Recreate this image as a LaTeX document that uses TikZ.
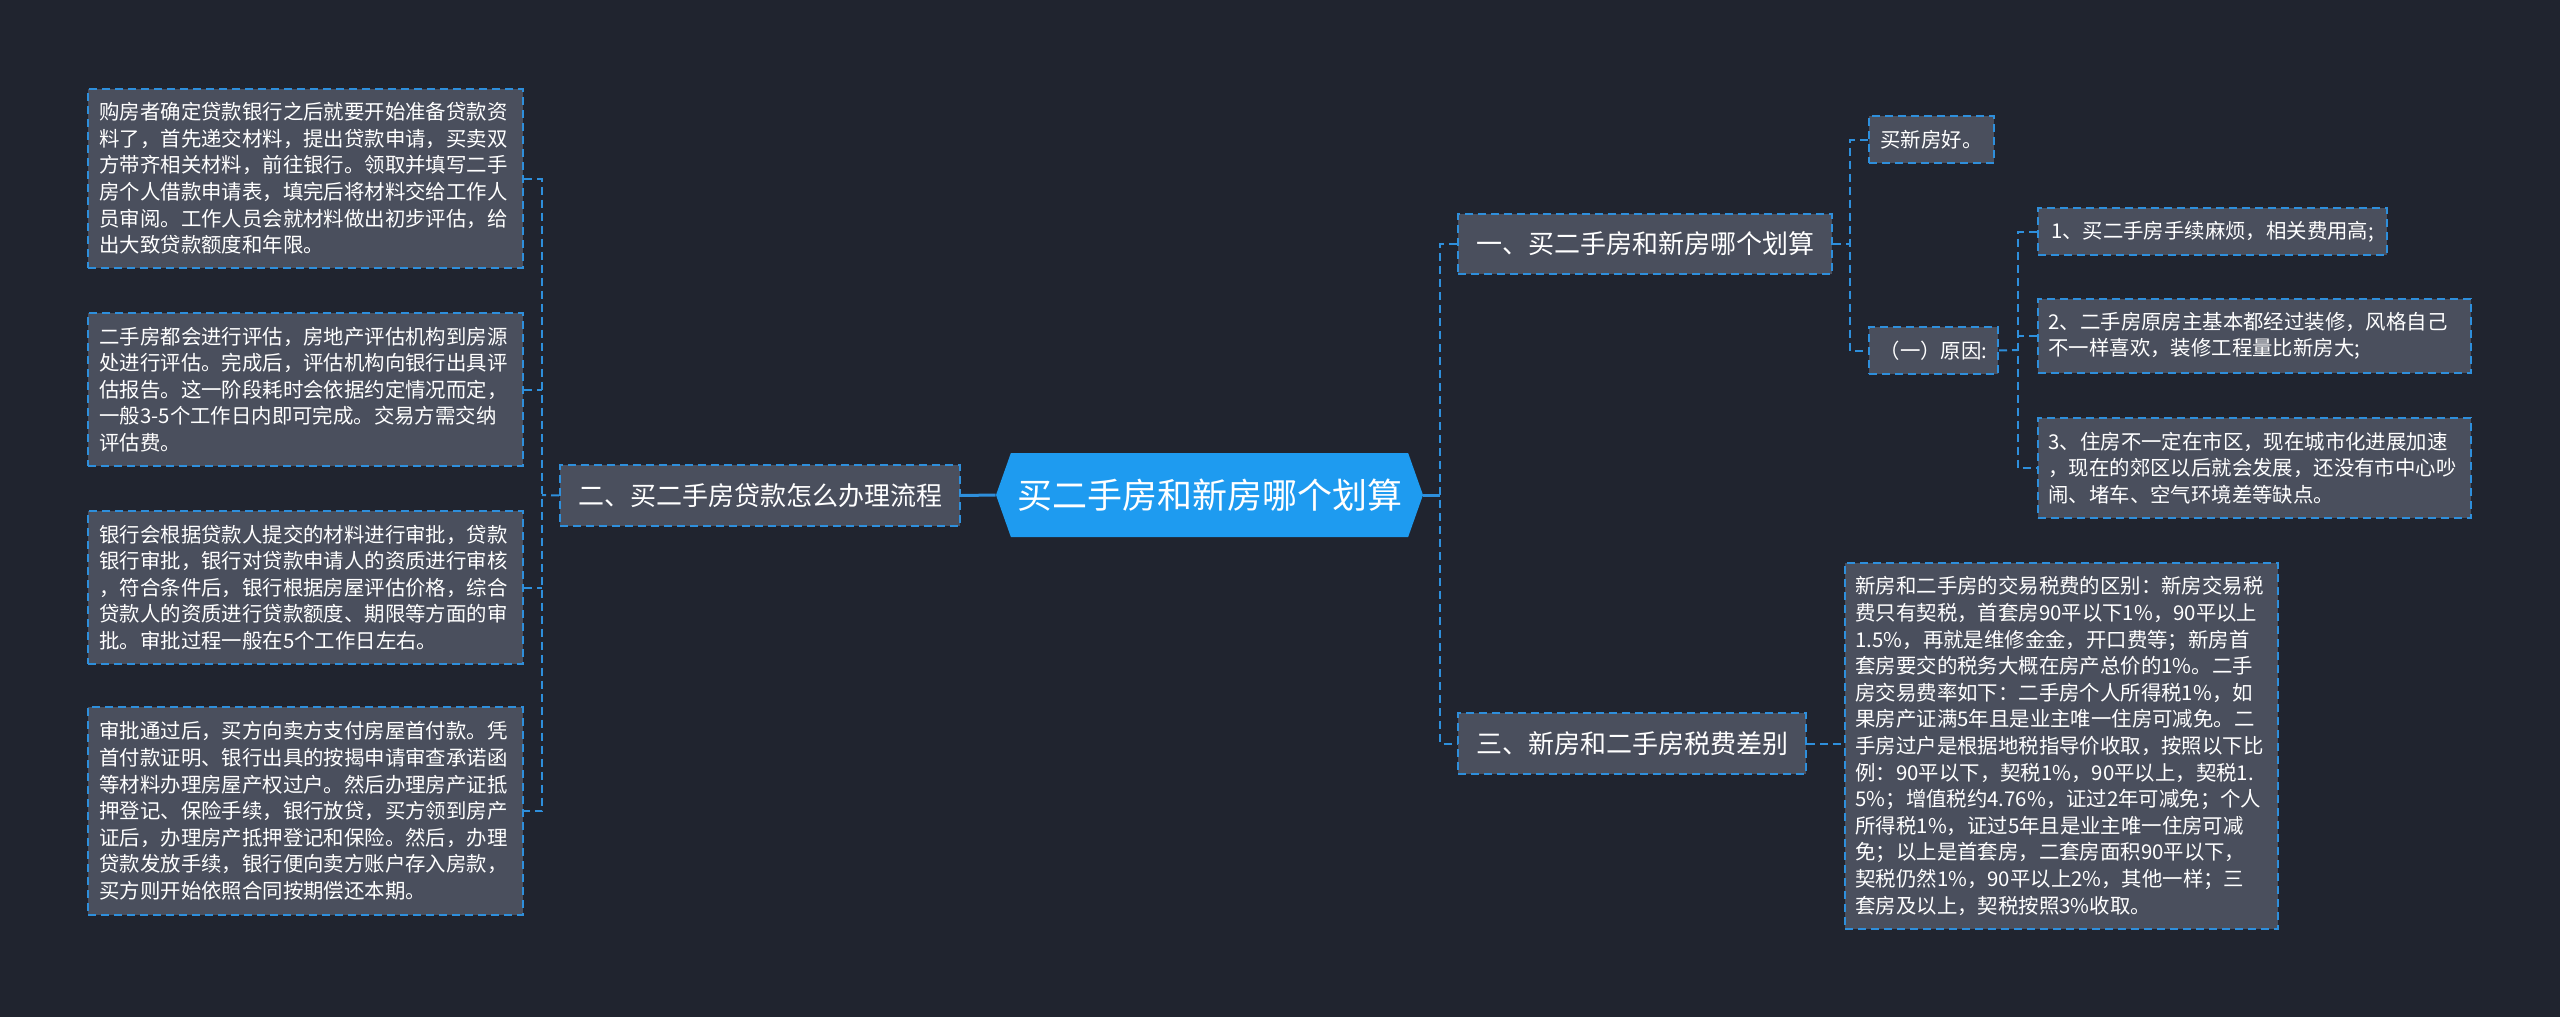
\documentclass[tikz,border=0pt]{standalone}
\usepackage{fontspec}
\setmainfont{Noto Sans CJK SC}
\usetikzlibrary{shapes.symbols}
\definecolor{bg}{HTML}{20242F}
\definecolor{boxfill}{HTML}{4A4F5D}
\definecolor{edge}{HTML}{2E8FDC}
\definecolor{rootblue}{HTML}{1E9BF0}
\begin{document}
\begin{tikzpicture}[x=0.5pt,y=-0.5pt,
  box/.style={draw=edge, fill=boxfill, dash pattern=on 4pt off 2.5pt, line width=1pt, text=white, inner sep=0pt},
  leaf/.style={box, font=\fontsize{10.2pt}{13.3pt}\selectfont, text width=206pt, align=left},
  smallbox/.style={box, font=\fontsize{10.2pt}{13.3pt}\selectfont, align=center},
  branch/.style={box, font=\fontsize{13pt}{16pt}\selectfont},
  conn/.style={draw=edge, line width=1pt, dash pattern=on 4pt off 2.5pt},
  solidconn/.style={draw=edge, line width=1.5pt},
  rootnode/.style={signal, signal to=west and east, signal pointer angle=141, fill=rootblue, text=white, inner sep=0pt, font=\fontsize{17.5pt}{20pt}\selectfont}]
\fill[bg] (0,0) rectangle (2560,1017);
\useasboundingbox (0,0) rectangle (2560,1017);

% root
\node[rootnode, minimum width=213.5pt, minimum height=42pt] (root) at (1209.5,495) {买二手房和新房哪个划算};

% left branch
\node[branch, minimum width=200pt, minimum height=30.5pt] (lb) at (760,495.5) {二、买二手房贷款怎么办理流程};

\node[leaf, minimum width=217.5pt, minimum height=89.5pt] (l1) at (305.5,178.5) {购房者确定贷款银行之后就要开始准备贷款资\\
料了，首先递交材料，提出贷款申请，买卖双\\
方带齐相关材料，前往银行。领取并填写二手\\
房个人借款申请表，填完后将材料交给工作人\\
员审阅。工作人员会就材料做出初步评估，给\\
出大致贷款额度和年限。};

\node[leaf, minimum width=217.5pt, minimum height=76.5pt] (l2) at (305.5,389.5) {二手房都会进行评估，房地产评估机构到房源\\
处进行评估。完成后，评估机构向银行出具评\\
估报告。这一阶段耗时会依据约定情况而定，\\
一般3-5个工作日内即可完成。交易方需交纳\\
评估费。};

\node[leaf, minimum width=217.5pt, minimum height=76.5pt] (l3) at (305.5,587.5) {银行会根据贷款人提交的材料进行审批，贷款\\
银行审批，银行对贷款申请人的资质进行审核\\
，符合条件后，银行根据房屋评估价格，综合\\
贷款人的资质进行贷款额度、期限等方面的审\\
批。审批过程一般在5个工作日左右。};

\node[leaf, minimum width=217.5pt, minimum height=104pt] (l4) at (305.5,811) {审批通过后，买方向卖方支付房屋首付款。凭\\
首付款证明、银行出具的按揭申请审查承诺函\\
等材料办理房屋产权过户。然后办理房产证抵\\
押登记、保险手续，银行放贷，买方领到房产\\
证后，办理房产抵押登记和保险。然后，办理\\
贷款发放手续，银行便向卖方账户存入房款，\\
买方则开始依照合同按期偿还本期。};

% right branches
\node[branch, minimum width=187pt, minimum height=30pt] (r1) at (1645,244) {一、买二手房和新房哪个划算};
\node[branch, minimum width=174pt, minimum height=30.5pt] (r3) at (1632,743.5) {三、新房和二手房税费差别};

\node[smallbox, minimum width=62.5pt, minimum height=23.5pt] (xf) at (1931.5,139.5) {买新房好。};
\node[smallbox, minimum width=64.5pt, minimum height=23.5pt] (yy) at (1933.5,350.5) {（一）原因:};

\node[smallbox, minimum width=174.5pt, minimum height=23.5pt] (i1) at (2212.5,231.5) {1、买二手房手续麻烦，相关费用高;};
\node[leaf, minimum width=216.5pt, minimum height=37pt] (i2) at (2254.5,336) {2、二手房原房主基本都经过装修，风格自己\\
不一样喜欢，装修工程量比新房大;};
\node[leaf, minimum width=216.5pt, minimum height=50pt] (i3) at (2254.5,468) {3、住房不一定在市区，现在城市化进展加速\\
，现在的郊区以后就会发展，还没有市中心吵\\
闹、堵车、空气环境差等缺点。};

\node[leaf, minimum width=216.5pt, minimum height=183pt] (tax) at (2061.5,746) {新房和二手房的交易税费的区别：新房交易税\\
费只有契税，首套房90平以下1\%，90平以上\\
1.5\%，再就是维修金金，开口费等；新房首\\
套房要交的税务大概在房产总价的1\%。二手\\
房交易费率如下：二手房个人所得税1\%，如\\
果房产证满5年且是业主唯一住房可减免。二\\
手房过户是根据地税指导价收取，按照以下比\\
例：90平以下，契税1\%，90平以上，契税1.\\
5\%；增值税约4.76\%，证过2年可减免；个人\\
所得税1\%，证过5年且是业主唯一住房可减\\
免；以上是首套房，二套房面积90平以下，\\
契税仍然1\%，90平以上2\%，其他一样；三\\
套房及以上，契税按照3\%收取。};

% connectors
\coordinate (lbus) at (542,495);
\coordinate (rbus) at (1440,495);
\coordinate (r1bus) at (1850,244);
\coordinate (yybus) at (2018,350);

\draw[solidconn] (root.west) -- (lb.east);
\draw[conn] (lb.west) -- (lbus);
\draw[conn] (l1.east) -- (l1.east -| lbus) -- (l4.east -| lbus) -- (l4.east);
\draw[conn] (l2.east) -- (l2.east -| lbus);
\draw[conn] (l3.east) -- (l3.east -| lbus);

\draw[solidconn] (root.east) -- (rbus);
\draw[conn] (r1.west) -- (r1.west -| rbus) -- (r3.west -| rbus) -- (r3.west);

\draw[conn] (r1.east) -- (r1bus);
\draw[conn] (xf.west) -- (xf.west -| r1bus) -- (yy.west -| r1bus) -- (yy.west);

\draw[conn] (yy.east) -- (yybus);
\draw[conn] (i1.west) -- (i1.west -| yybus) -- (i3.west -| yybus) -- (i3.west);
\draw[conn] (i2.west) -- (i2.west -| yybus);

\draw[conn] (r3.east) -- (r3.east -| tax.west);
\end{tikzpicture}
\end{document}
